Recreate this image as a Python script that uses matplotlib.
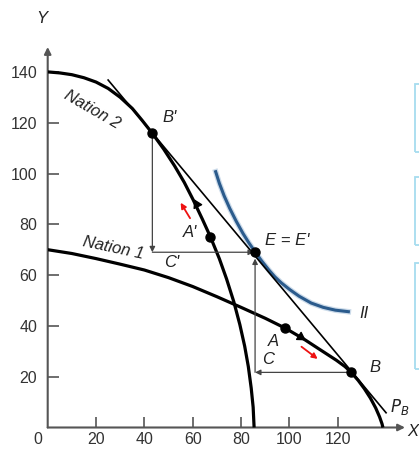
import matplotlib
matplotlib.use("Agg")
import matplotlib.pyplot as plt
from matplotlib.patches import Rectangle

# ---- data ----
nation1_x = [0, 10, 20, 30, 40, 50, 60, 70, 80, 90, 98.3, 106, 112.6, 119.4, 123, 125.6,
             128.5, 131, 133.5, 135.7, 137.3, 138.3, 138.7]
nation1_y = [70, 68.5, 66.5, 64.3, 62, 59, 55.5, 51.5, 47.3, 43, 39.1, 34.8, 30.7, 26.5, 24,
             21.7, 18.5, 15.3, 11.6, 7.7, 4.2, 1.5, 0]

nation2_x = [0, 5, 10, 15, 20, 25, 30, 35, 39, 43.3, 48, 52.5, 56.5, 60.1, 64, 67.3, 71, 74,
             77, 79.5, 81.5, 83, 84.2, 85, 85.4]
nation2_y = [140, 139.6, 138.9, 137.7, 136, 133.5, 130, 125.6, 121, 115.8, 109.6, 103, 96.5,
             89.8, 82, 75.1, 66.5, 58.5, 49.5, 40.5, 32, 24, 15.5, 8, 0]

ii_x = [69.5, 71, 73, 75.3, 78, 80.8, 83.3, 85.8, 88.5, 91.5, 94, 96.7, 100, 104, 109, 114,
        119, 124.4]
ii_y = [100.7, 96.2, 91.2, 86.3, 81.2, 76.4, 72.6, 69.2, 65.6, 62, 59.3, 56.9, 54.4, 51.7,
        49, 47.3, 46.2, 45.6]

price_x = [25, 140]
price_y = [136.8, 5.8]

point_names = ["B'", "A'", "E", "A", "B"]
point_x = [43.3, 67.3, 85.8, 98.3, 125.6]
point_y = [115.8, 75.1, 69.0, 39.1, 21.7]

x_ticks = [20, 40, 60, 80, 100, 120]
y_ticks = [20, 40, 60, 80, 100, 120, 140]

# small direction arrowheads on the curves (tail, head)
curve_arrows = [((61.6, 88.0), (60.6, 89.9)), ((105.0, 35.4), (106.8, 34.3))]
# red arrows (tail, head)
red_arrows = [((58.9, 82.4), (55.0, 88.5)), ((105.0, 31.8), (111.7, 27.0))]

# ---- figure ----
W, H = 419, 451
fig = plt.figure(figsize=(W / 100, H / 100), dpi=100)
plt.rcParams['font.family'] = ['Liberation Sans', 'DejaVu Sans']

x0px, y0px = 47.7, 427.5
sx, sy = 2.417, 2.54
xmax = (405 - x0px) / sx
ymax = (y0px - 47) / sy
ax = fig.add_axes([x0px / W, (H - y0px) / H, (405 - x0px) / W, (y0px - 47) / H])
ax.set_xlim(0, xmax)
ax.set_ylim(0, ymax)
for s in ['top', 'right', 'left', 'bottom']:
    ax.spines[s].set_visible(False)

axcol = '#555555'
# axes with arrows
ax.annotate('', xy=(0, 1), xytext=(0, 0), xycoords='axes fraction',
            arrowprops=dict(arrowstyle='-|>', color=axcol, lw=1.5, mutation_scale=10,
                            shrinkA=0, shrinkB=0), annotation_clip=False)
ax.annotate('', xy=(1, 0), xytext=(0, 0), xycoords='axes fraction',
            arrowprops=dict(arrowstyle='-|>', color=axcol, lw=1.5, mutation_scale=10,
                            shrinkA=0, shrinkB=0), annotation_clip=False)

ax.set_xticks(x_ticks)
ax.set_yticks(y_ticks)
ax.set_xticklabels([str(v) for v in x_ticks])
ax.set_yticklabels([str(v) for v in y_ticks])
ax.tick_params(axis='both', direction='in', length=8, width=1.2, color=axcol,
               labelsize=11.5, labelcolor='#333333')
ax.tick_params(axis='y', pad=7.5)
ax.tick_params(axis='x', pad=3.5)
ax.text(-4, -4.9, '0', fontsize=11.5, color='#333333', ha='center', va='center',
        clip_on=False)

# curves
ax.plot(nation1_x, nation1_y, color='black', lw=2.3, solid_capstyle='butt', zorder=3)
ax.plot(nation2_x, nation2_y, color='black', lw=2.3, solid_capstyle='butt', zorder=3)
ax.plot(ii_x, ii_y, color='#aac4dc', lw=4.0, alpha=0.6, zorder=2)
ax.plot(ii_x, ii_y, color='#2b5b8c', lw=2.2, zorder=2)
ax.plot(price_x, price_y, color='black', lw=1.2, zorder=3)

# trade triangles
tcol = '#444444'
bpx, bpy = point_x[0], point_y[0]
ex, ey = point_x[2], point_y[2]
bx, by = point_x[4], point_y[4]
tri_kw = dict(arrowstyle='-|>', color=tcol, lw=0.9, mutation_scale=8, shrinkA=0, shrinkB=0)
ax.annotate('', xy=(bpx, ey), xytext=(bpx, bpy), arrowprops=tri_kw)
ax.annotate('', xy=(ex - 0.5, ey), xytext=(bpx, ey), arrowprops=tri_kw)
ax.annotate('', xy=(ex, ey - 2.5), xytext=(ex, by), arrowprops=tri_kw)
ax.annotate('', xy=(ex, by), xytext=(bx, by), arrowprops=tri_kw)

# points
ax.plot(point_x, point_y, 'o', color='black', ms=6.5, zorder=5)

# small arrowheads along curves
for (t, h) in curve_arrows:
    ax.annotate('', xy=h, xytext=t,
                arrowprops=dict(arrowstyle='-|>,head_length=0.5,head_width=0.3',
                                color='black', lw=1.0,
                                mutation_scale=10, shrinkA=0, shrinkB=0), zorder=6)
# red arrows
for (t, h) in red_arrows:
    ax.annotate('', xy=h, xytext=t,
                arrowprops=dict(arrowstyle='-|>', color='#ee1111', lw=1.3,
                                mutation_scale=8, shrinkA=0, shrinkB=0), zorder=6)

# labels
lab = dict(fontsize=12, style='italic', color='#222222', ha='center', va='center')
ax.text(-2.4, 161.2, 'Y', clip_on=False, **lab)
ax.text(151.1, -1.4, 'X', clip_on=False, **lab)
ax.text(18.3, 125, 'Nation 2', rotation=-30, rotation_mode='anchor', **lab)
ax.text(27, 70.6, 'Nation 1', rotation=-12, rotation_mode='anchor', **lab)
ax.text(50.6, 121.9, "B'", **lab)
ax.text(58.9, 76.6, "A'", **lab)
ax.text(51.4, 64.8, "C'", **lab)
ax.text(99, 73.8, "E = E'", **lab)
ax.text(130.9, 44.7, 'II', **lab)
ax.text(93.2, 33.7, 'A', **lab)
ax.text(91.1, 26.6, 'C', **lab)
ax.text(135.4, 23.8, 'B', **lab)
ax.text(145.8, 8.1, '$P_B$', clip_on=False, fontsize=12, color='#222222', ha='center',
        va='center')

# light blue boxes at the right edge
for (top, bot) in [(84, 152), (177, 245), (263, 369)]:
    fig.add_artist(Rectangle((415 / W, 1 - bot / H), 20 / W, (bot - top) / H,
                             transform=fig.transFigure, fill=False,
                             edgecolor='#a6dcef', lw=1.3))

fig.savefig('out.png', dpi=100)
